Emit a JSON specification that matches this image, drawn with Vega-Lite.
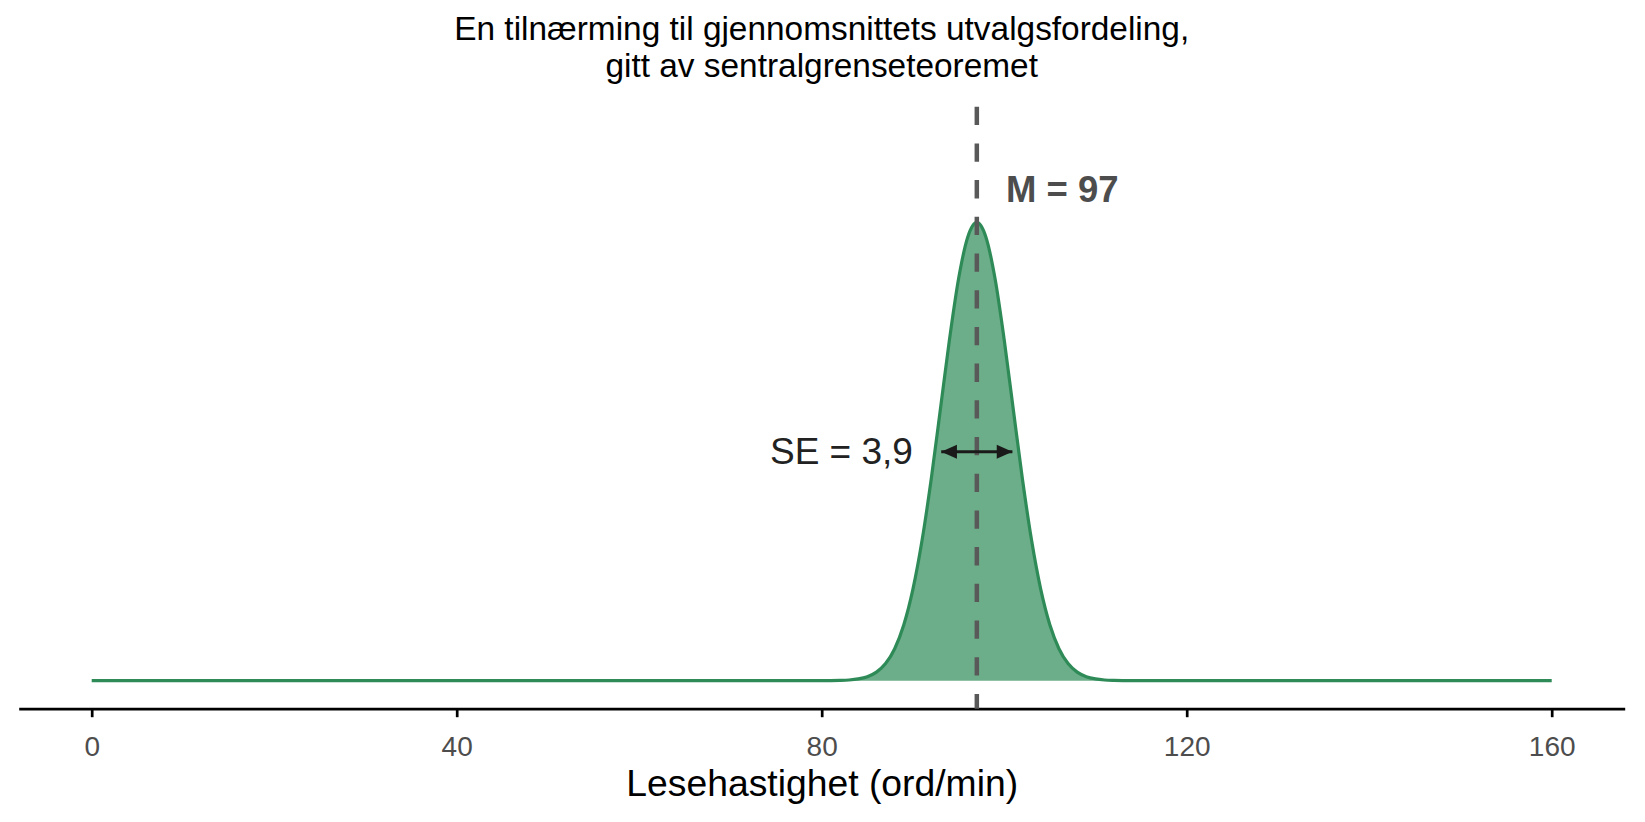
{
  "$schema": "https://vega.github.io/schema/vega-lite/v6.json",
  "width": 1606,
  "height": 602,
  "autosize": {"type": "none"},
  "padding": {"left": 18.7, "top": 106.7, "right": 20.3, "bottom": 113.3},
  "background": "white",
  "title": {
    "text": ["En tilnærming til gjennomsnittets utvalgsfordeling,", "gitt av sentralgrenseteoremet"],
    "font": "Liberation Sans",
    "fontSize": 33.4,
    "fontWeight": "normal",
    "color": "black",
    "anchor": "middle",
    "lineHeight": 37.4,
    "offset": 20
  },
  "config": {
    "view": {"stroke": null},
    "font": "Liberation Sans",
    "axis": {
      "labelFont": "Liberation Sans",
      "titleFont": "Liberation Sans"
    }
  },
  "datasets": {
    "curve": [
      {"x": 0, "density": 0},
      {"x": 20, "density": 0},
      {"x": 40, "density": 0},
      {"x": 60, "density": 0},
      {"x": 70, "density": 0},
      {"x": 75, "density": 0},
      {"x": 78, "density": 0},
      {"x": 80, "density": 0.00001},
      {"x": 81, "density": 0.00002},
      {"x": 82, "density": 0.00006},
      {"x": 83, "density": 0.00016},
      {"x": 84, "density": 0.0004},
      {"x": 85, "density": 0.0009},
      {"x": 86, "density": 0.00192},
      {"x": 87, "density": 0.00382},
      {"x": 88, "density": 0.00714},
      {"x": 89, "density": 0.01248},
      {"x": 90, "density": 0.02043},
      {"x": 91, "density": 0.03132},
      {"x": 92, "density": 0.04497},
      {"x": 93, "density": 0.06045},
      {"x": 94, "density": 0.07609},
      {"x": 95, "density": 0.08969},
      {"x": 96, "density": 0.09898},
      {"x": 97, "density": 0.10229},
      {"x": 98, "density": 0.09898},
      {"x": 99, "density": 0.08969},
      {"x": 100, "density": 0.07609},
      {"x": 101, "density": 0.06045},
      {"x": 102, "density": 0.04497},
      {"x": 103, "density": 0.03132},
      {"x": 104, "density": 0.02043},
      {"x": 105, "density": 0.01248},
      {"x": 106, "density": 0.00714},
      {"x": 107, "density": 0.00382},
      {"x": 108, "density": 0.00192},
      {"x": 109, "density": 0.0009},
      {"x": 110, "density": 0.0004},
      {"x": 111, "density": 0.00016},
      {"x": 112, "density": 0.00006},
      {"x": 113, "density": 0.00002},
      {"x": 114, "density": 0.00001},
      {"x": 116, "density": 0},
      {"x": 120, "density": 0},
      {"x": 140, "density": 0},
      {"x": 160, "density": 0}
    ]
  },
  "layer": [
    {
      "data": {"name": "curve"},
      "mark": {"type": "area", "interpolate": "monotone", "color": "#2e8b57", "opacity": 0.7},
      "encoding": {
        "x": {
          "field": "x",
          "type": "quantitative",
          "scale": {"domain": [-8, 168], "nice": false, "zero": false},
          "axis": {
            "values": [0, 40, 80, 120, 160],
            "grid": false,
            "domainColor": "black",
            "domainWidth": 2.7,
            "tickColor": "black",
            "tickWidth": 2.7,
            "tickSize": 8,
            "labelFontSize": 28,
            "labelColor": "#4d4d4d",
            "labelPadding": 16.5,
            "title": "Lesehastighet (ord/min)",
            "titleFontSize": 37.3,
            "titleFontWeight": "normal",
            "titleColor": "black",
            "titleBaseline": "alphabetic",
            "titleY": 86.7
          }
        },
        "y": {
          "field": "density",
          "type": "quantitative",
          "scale": {"domain": [-0.00625, 0.1281], "nice": false, "zero": false},
          "axis": null
        },
        "y2": {"datum": 0}
      }
    },
    {
      "data": {"name": "curve"},
      "mark": {"type": "line", "interpolate": "monotone", "color": "#2e8b57", "strokeWidth": 3.2},
      "encoding": {
        "x": {"field": "x", "type": "quantitative"},
        "y": {"field": "density", "type": "quantitative"}
      }
    },
    {
      "data": {"values": [{"mean": 97}]},
      "mark": {"type": "rule", "color": "#595959", "strokeWidth": 4.5, "strokeDash": [18.3, 18.4]},
      "encoding": {
        "x": {"field": "mean", "type": "quantitative"}
      }
    },
    {
      "data": {"values": [{"from": 93.1, "to": 100.9, "y": 0.0511}]},
      "mark": {"type": "rule", "color": "#1a1a1a", "strokeWidth": 3},
      "encoding": {
        "x": {"field": "from", "type": "quantitative"},
        "x2": {"field": "to"},
        "y": {"field": "y", "type": "quantitative"}
      }
    },
    {
      "data": {"values": [
        {"x": 93.1, "y": 0.0511, "end": "venstre"},
        {"x": 100.9, "y": 0.0511, "end": "høyre"}
      ]},
      "mark": {"type": "point", "filled": true, "opacity": 1, "color": "#1a1a1a", "size": 246, "strokeWidth": 0},
      "encoding": {
        "x": {"field": "x", "type": "quantitative"},
        "y": {"field": "y", "type": "quantitative"},
        "shape": {
          "field": "end",
          "type": "nominal",
          "scale": {"domain": ["venstre", "høyre"], "range": ["M0,0L2,-0.9L2,0.9Z", "M0,0L-2,-0.9L-2,0.9Z"]},
          "legend": null
        }
      }
    },
    {
      "data": {"values": [{"x": 100.2, "y": 0.1069, "label": "M = 97"}]},
      "mark": {"type": "text", "align": "left", "baseline": "alphabetic", "fontSize": 36.5, "fontWeight": "bold", "color": "#4d4d4d"},
      "encoding": {
        "x": {"field": "x", "type": "quantitative"},
        "y": {"field": "y", "type": "quantitative"},
        "text": {"field": "label"}
      }
    },
    {
      "data": {"values": [{"x": 90, "y": 0.0484, "label": "SE = 3,9"}]},
      "mark": {"type": "text", "align": "right", "baseline": "alphabetic", "fontSize": 37, "color": "#222222"},
      "encoding": {
        "x": {"field": "x", "type": "quantitative"},
        "y": {"field": "y", "type": "quantitative"},
        "text": {"field": "label"}
      }
    }
  ]
}
